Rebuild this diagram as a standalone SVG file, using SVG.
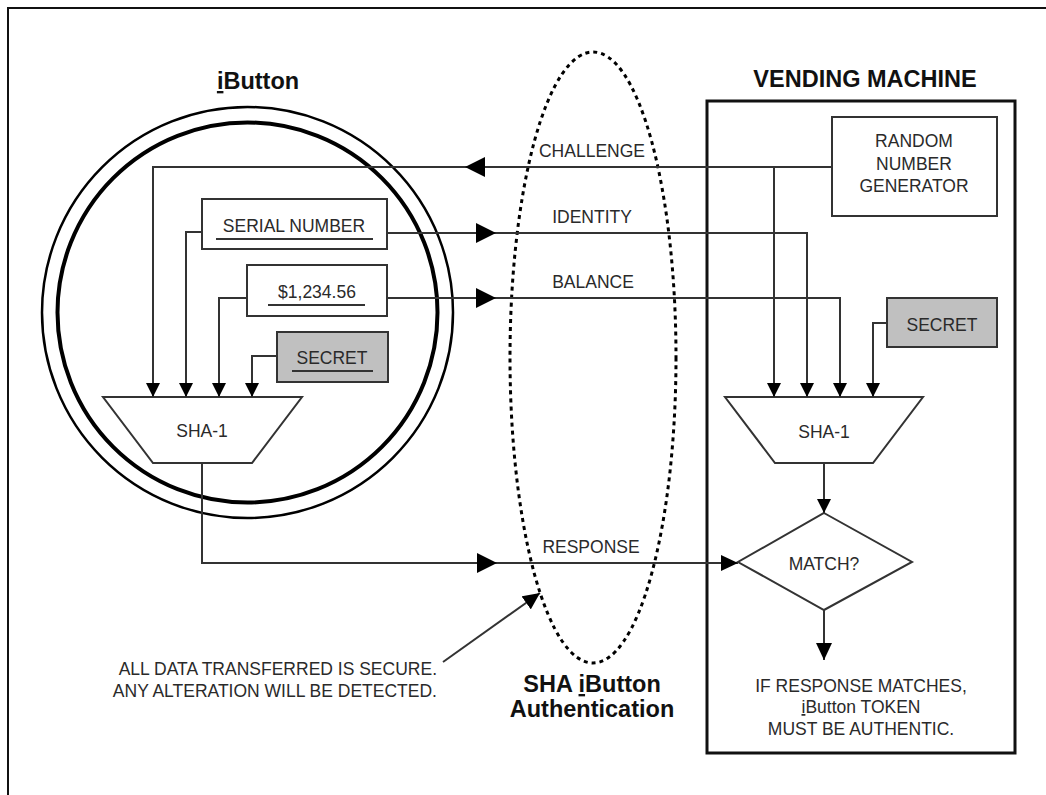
<svg xmlns="http://www.w3.org/2000/svg" width="1046" height="795" viewBox="0 0 1046 795">
<defs>
<style>
text{font-family:"Liberation Sans",Arial,sans-serif;fill:#2a2a2a}
.t{font-size:17.5px}
.tm{text-anchor:middle}
.b{font-size:23.5px;font-weight:bold;fill:#111;text-anchor:middle}
.box{fill:#fff;stroke:#333;stroke-width:2}
.gray{fill:#c0c0c0;stroke:#333;stroke-width:2}
.ul{stroke:#333;stroke-width:2}
.c{fill:none;stroke:#333;stroke-width:2}
.ah{fill:#000}
</style>
<marker id="big" viewBox="0 0 20 20" refX="20" refY="10" markerWidth="20" markerHeight="20" markerUnits="userSpaceOnUse" orient="auto"><path class="ah" d="M0,0 L20,10 L0,20 z"/></marker>
<marker id="sm" viewBox="0 0 14 14" refX="14" refY="7" markerWidth="14" markerHeight="14" markerUnits="userSpaceOnUse" orient="auto"><path class="ah" d="M0,0 L14,7 L0,14 z"/></marker>
<marker id="md" viewBox="0 0 17 16" refX="17" refY="8" markerWidth="17" markerHeight="16" markerUnits="userSpaceOnUse" orient="auto"><path class="ah" d="M0,0 L17,8 L0,16 z"/></marker>
</defs>
<rect x="0" y="0" width="1046" height="795" fill="#fff"/>
<path d="M8,800 L8,8 L1050,8" fill="none" stroke="#111" stroke-width="2"/>

<g id="ibutton">
<text class="b" x="258" y="89"><tspan text-decoration="underline">i</tspan>Button</text>
<circle cx="247.5" cy="312.5" r="205.5" fill="none" stroke="#000" stroke-width="2.5"/>
<circle cx="247.5" cy="312.5" r="190" fill="none" stroke="#000" stroke-width="4"/>
</g>

<g id="auth-ellipse">
<ellipse cx="593" cy="357.5" rx="83" ry="305.5" fill="none" stroke="#000" stroke-width="3" stroke-dasharray="4 4"/>
<text class="b" x="592" y="692">SHA <tspan text-decoration="underline">i</tspan>Button</text>
<text class="b" x="592" y="717">Authentication</text>
</g>

<g id="vending">
<rect x="707" y="101" width="308" height="652" fill="none" stroke="#111" stroke-width="3"/>
<text class="b" x="865" y="87">VENDING MACHINE</text>
</g>

<g id="serial">
<rect class="box" x="202" y="199" width="185" height="50"/>
<text class="t tm" x="294" y="232">SERIAL NUMBER</text>
<line class="ul" x1="216" y1="239" x2="373" y2="239"/>
</g>

<g id="balance">
<rect class="box" x="247" y="265" width="140" height="51"/>
<text class="t tm" x="317" y="298">$1,234.56</text>
<line class="ul" x1="268" y1="305" x2="365" y2="305"/>
</g>

<g id="secret-left">
<rect class="gray" x="277" y="332" width="111" height="50"/>
<text class="t tm" x="332" y="364">SECRET</text>
<line class="ul" x1="292" y1="371" x2="373" y2="371"/>
</g>

<g id="sha-left">
<path class="box" d="M103,397 L302,397 L252,463 L153,463 Z"/>
<text class="t tm" x="202" y="437">SHA-1</text>
</g>

<g id="rng">
<rect class="box" x="832" y="117" width="165" height="99"/>
<text class="t tm" x="914" y="147">RANDOM</text>
<text class="t tm" x="914" y="170">NUMBER</text>
<text class="t tm" x="914" y="192">GENERATOR</text>
</g>

<g id="secret-right">
<rect class="gray" x="887" y="298" width="110" height="49"/>
<text class="t tm" x="942" y="331">SECRET</text>
</g>

<g id="sha-right">
<path class="box" d="M725,397 L923,397 L873,463 L775,463 Z"/>
<text class="t tm" x="824" y="438">SHA-1</text>
</g>

<g id="match">
<path class="box" d="M824,513 L912,562 L824,610 L738,562 Z"/>
<text class="t tm" x="824" y="570">MATCH?</text>
</g>

<g id="note-left">
<text class="t" x="437" y="675" text-anchor="end">ALL DATA TRANSFERRED IS SECURE.</text>
<text class="t" x="437" y="697" text-anchor="end">ANY ALTERATION WILL BE DETECTED.</text>
</g>

<g id="note-right">
<text class="t tm" x="861" y="692">IF RESPONSE MATCHES,</text>
<text class="t tm" x="861" y="713"><tspan text-decoration="underline">i</tspan>Button TOKEN</text>
<text class="t tm" x="861" y="735">MUST BE AUTHENTIC.</text>
</g>

<g id="connectors">
<path class="c" d="M832,167 L465,167" marker-end="url(#big)"/>
<path class="c" d="M465,167 L153,167 L153,397" marker-end="url(#sm)"/>
<path class="c" d="M774,167 L774,397" marker-end="url(#sm)"/>
<path class="c" d="M387,233 L496,233" marker-end="url(#big)"/>
<path class="c" d="M496,233 L807,233 L807,397" marker-end="url(#sm)"/>
<path class="c" d="M387,298 L496,298" marker-end="url(#big)"/>
<path class="c" d="M496,298 L840,298 L840,397" marker-end="url(#sm)"/>
<path class="c" d="M887,323 L873,323 L873,397" marker-end="url(#sm)"/>
<path class="c" d="M202,232 L186,232 L186,397" marker-end="url(#sm)"/>
<path class="c" d="M247,298 L219,298 L219,397" marker-end="url(#sm)"/>
<path class="c" d="M277,356 L252,356 L252,397" marker-end="url(#sm)"/>
<path class="c" d="M202,463 L202,563 L497,563" marker-end="url(#big)"/>
<path class="c" d="M497,563 L738,563" marker-end="url(#md)"/>
<path class="c" d="M824,463 L824,513" marker-end="url(#sm)"/>
<path class="c" d="M824,610 L824,660" marker-end="url(#md)"/>
<path class="c" d="M443,662 L540,593" marker-end="url(#md)"/>
<text class="t tm" x="592" y="157">CHALLENGE</text>
<text class="t tm" x="592" y="223">IDENTITY</text>
<text class="t tm" x="593" y="288">BALANCE</text>
<text class="t tm" x="591" y="553">RESPONSE</text>
</g>
</svg>
